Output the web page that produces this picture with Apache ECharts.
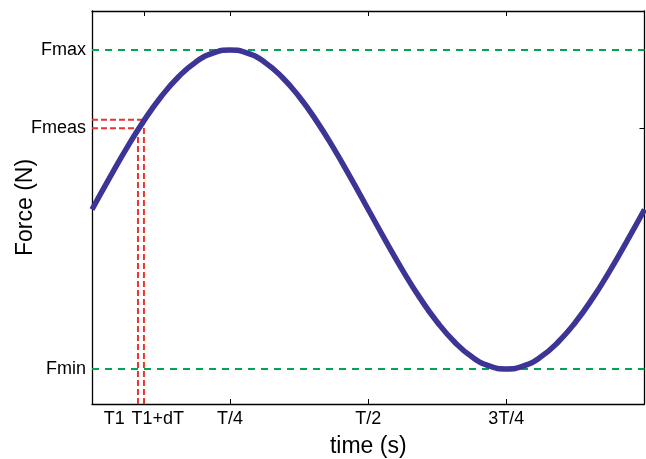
<!DOCTYPE html>
<html><head><meta charset="utf-8">
<script src="https://cdn.jsdelivr.net/npm/echarts@6/dist/echarts.min.js"></script>
<style>html,body{margin:0;padding:0;background:#fff}#c{width:646px;height:459px}</style>
</head><body><div id="c"></div>
<script>
// time in periods (T = 1), force normalised (Fmax = 1, Fmin = -1)
const times = [0,0.03125,0.0625,0.09375,0.125,0.15625,0.1875,0.21875,0.25,0.28125,0.3125,0.34375,0.375,0.40625,0.4375,0.46875,0.5,0.53125,0.5625,0.59375,0.625,0.65625,0.6875,0.71875,0.75,0.78125,0.8125,0.84375,0.875,0.90625,0.9375,0.96875,1];
const forces = [0,0.195,0.383,0.556,0.707,0.831,0.924,0.981,1,0.981,0.924,0.831,0.707,0.556,0.383,0.195,0,-0.195,-0.383,-0.556,-0.707,-0.831,-0.924,-0.981,-1,-0.981,-0.924,-0.831,-0.707,-0.556,-0.383,-0.195,0];
const fMax = 1, fMin = -1;
const measTimes = [0.0832, 0.094];
const measForces = [0.51, 0.563];
const xLabelValues = [0.0405, 0.119, 0.25, 0.5, 0.75];
const xLabelTexts = ['T1', 'T1+dT', 'T/4', 'T/2', '3T/4'];
const xTickValues = [0.094, 0.25, 0.5, 0.75];
const yLabelValues = [fMax, 0.51, fMin];
const yLabelTexts = ['Fmax', 'Fmeas', 'Fmin'];

const X_MIN = 0, X_MAX = 1, Y_MIN = -1.22, Y_MAX = 1.245;
const font = 'Liberation Sans, Arial, Helvetica, sans-serif';
const axisLine = {show: true, onZero: false, lineStyle: {color: '#000', width: 1.3}};

function xLabelFmt(v) { const i = xLabelValues.findIndex(a => Math.abs(a - v) < 1e-6); return i >= 0 ? xLabelTexts[i] : ''; }
function yLabelFmt(v) { const i = yLabelValues.findIndex(a => Math.abs(a - v) < 1e-6); return i >= 0 ? yLabelTexts[i] : ''; }

const mainLine = times.map((t, i) => [t, forces[i]]);
const series = [
  {type: 'line', data: [[X_MIN, fMax], [X_MAX, fMax]], symbol: 'none', lineStyle: {color: '#00a651', width: 2, type: [7, 6]}, silent: true, z: 2},
  {type: 'line', data: [[X_MIN, fMin], [X_MAX, fMin]], symbol: 'none', lineStyle: {color: '#00a651', width: 2, type: [7, 6]}, silent: true, z: 2},
];
measTimes.forEach((t, i) => {
  series.push({type: 'line', data: [[X_MIN, measForces[i]], [t, measForces[i]]], symbol: 'none', lineStyle: {color: '#e8352e', width: 2, type: [6, 3]}, silent: true, z: 2});
  series.push({type: 'line', data: [[t, Y_MIN], [t, measForces[i]]], symbol: 'none', lineStyle: {color: '#e8352e', width: 2, type: [6, 3]}, silent: true, z: 2});
});
series.push({type: 'line', data: mainLine, smooth: true, symbol: 'none', lineStyle: {color: '#3d3596', width: 5.5}, z: 3});

const chart = echarts.init(document.getElementById('c'), null, {renderer: 'canvas'});
chart.setOption({
  animation: false,
  backgroundColor: '#fff',
  grid: {left: 92, right: 1.5, top: 11, bottom: 55, containLabel: false, outerBoundsMode: 'none'},
  xAxis: [
    {type: 'value', min: X_MIN, max: X_MAX, position: 'bottom', axisLine,
     axisTick: {show: true, inside: true, length: 5, customValues: xTickValues, lineStyle: {color: '#000'}},
     axisLabel: {show: true, customValues: xLabelValues, formatter: xLabelFmt, color: '#000', fontSize: 18, fontFamily: font, margin: 6},
     splitLine: {show: false},
     name: 'time (s)', nameLocation: 'middle', nameGap: 31, nameMoveOverlap: false, nameTextStyle: {color: '#000', fontSize: 23, fontFamily: font}},
    {type: 'value', min: X_MIN, max: X_MAX, position: 'top', axisLine,
     axisTick: {show: true, inside: true, length: 5, customValues: xTickValues, lineStyle: {color: '#000'}},
     axisLabel: {show: false}, splitLine: {show: false}}
  ],
  yAxis: [
    {type: 'value', min: Y_MIN, max: Y_MAX, position: 'left', axisLine,
     axisTick: {show: true, inside: true, length: 5, customValues: yLabelValues, lineStyle: {color: '#000'}},
     axisLabel: {show: true, customValues: yLabelValues, formatter: yLabelFmt, color: '#000', fontSize: 18, fontFamily: font, margin: 6},
     splitLine: {show: false},
     name: 'Force (N)', nameLocation: 'middle', nameGap: 55, nameMoveOverlap: false, nameTextStyle: {color: '#000', fontSize: 23, fontFamily: font}},
    {type: 'value', min: Y_MIN, max: Y_MAX, position: 'right', axisLine,
     axisTick: {show: true, inside: true, length: 5, customValues: yLabelValues, lineStyle: {color: '#000'}},
     axisLabel: {show: false}, splitLine: {show: false}}
  ],
  series
});
</script></body></html>
